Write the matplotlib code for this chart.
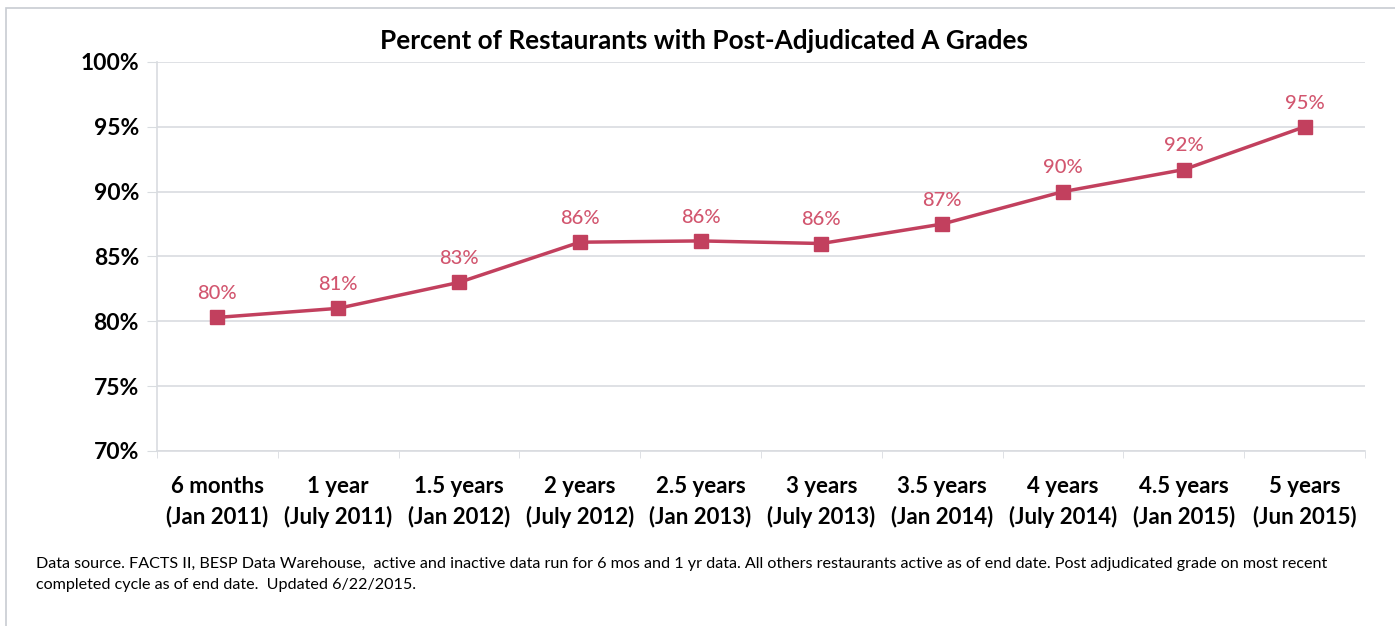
import matplotlib.pyplot as plt
from matplotlib.patches import Rectangle
import numpy as np

# values
periods = ['6 months', '1 year', '1.5 years', '2 years', '2.5 years',
           '3 years', '3.5 years', '4 years', '4.5 years', '5 years']
dates = ['(Jan 2011)', '(July 2011)', '(Jan 2012)', '(July 2012)', '(Jan 2013)',
         '(July 2013)', '(Jan 2014)', '(July 2014)', '(Jan 2015)', '(Jun 2015)']
pct_a = [80.3, 81.0, 83.0, 86.1, 86.2, 86.0, 87.5, 90.0, 91.7, 95.0]
pct_labels = ['80%', '81%', '83%', '86%', '86%', '86%', '87%', '90%', '92%', '95%']
y_ticks = [70, 75, 80, 85, 90, 95, 100]

plt.rcParams['font.family'] = ['Lato', 'DejaVu Sans']

line_color = '#C2405E'
label_color = '#D2566F'
grid_color = '#D9DCE0'

fig = plt.figure(figsize=(13.95, 6.26), dpi=100)
ax = fig.add_axes([0.1125, 0.2796, 0.866, 0.6214])

x = np.arange(len(periods))
ax.plot(x, pct_a, color=line_color, linewidth=2.5, marker='s',
        markersize=9.5, markerfacecolor=line_color, markeredgecolor=line_color)
for xi, yi, lab in zip(x, pct_a, pct_labels):
    ax.annotate(lab, (xi, yi), xytext=(0, 11), textcoords='offset points',
                ha='center', va='bottom', fontsize=14.5, color=label_color,
                fontweight='medium')

ax.set_xlim(-0.5, len(periods) - 0.5)
ax.set_ylim(70, 100)
ax.set_yticks(y_ticks)
ax.set_yticklabels([f'{v}%' for v in y_ticks], fontsize=16.5, fontweight='bold')
ax.set_xticks(x)
ax.set_xticklabels([f'{p}\n{d}' for p, d in zip(periods, dates)],
                   fontsize=16, fontweight='bold', linespacing=1.5)
ax.set_xticks(np.arange(-0.5, len(periods)), minor=True)

ax.grid(axis='y', color=grid_color, linewidth=1.2)
ax.set_axisbelow(True)
ax.tick_params(axis='y', length=7, color=grid_color, pad=6)
ax.tick_params(axis='x', which='major', length=0, pad=18)
ax.tick_params(axis='x', which='minor', length=5, color=grid_color)
for side in ['top', 'right']:
    ax.spines[side].set_visible(False)
ax.spines['left'].set_color(grid_color)
ax.spines['bottom'].set_color(grid_color)
ax.spines['left'].set_linewidth(1.2)
ax.spines['bottom'].set_linewidth(1.2)

fig.text(0.505, 0.935, 'Percent of Restaurants with Post-Adjudicated A Grades',
         ha='center', va='center', fontsize=18.8, fontweight='bold')

fig.text(0.026, 0.082,
         'Data source. FACTS II, BESP Data Warehouse,  active and inactive data run for 6 mos and 1 yr data. '
         'All others restaurants active as of end date. Post adjudicated grade on most recent\n'
         'completed cycle as of end date.  Updated 6/22/2015.',
         ha='left', va='center', fontsize=11.6, linespacing=1.65)

# thin frame around the chart area
fig.patches.append(Rectangle((0.004, -0.02), 1.1, 1.007, transform=fig.transFigure,
                             fill=False, edgecolor='#C8CCD2', linewidth=1.2))

fig.savefig('out.png', dpi=100)
